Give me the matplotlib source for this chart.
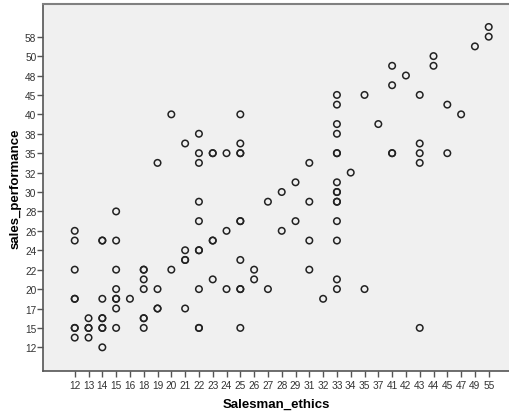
import matplotlib
matplotlib.use("Agg")
import matplotlib.pyplot as plt
import numpy as np

# category levels shown on each axis (ordinal, equally spaced)
x_levels = [12, 13, 14, 15, 16, 18, 19, 20, 21, 22, 23, 24, 25, 26, 27, 28,
            29, 31, 32, 33, 34, 35, 37, 41, 42, 43, 44, 45, 47, 49, 55]
y_levels = [12, 13, 15, 16, 17, 18, 20, 21, 22, 23, 24, 25, 26, 27, 28, 29,
            30, 31, 32, 33, 35, 37, 38, 39, 40, 43, 45, 47, 48, 49, 50, 55,
            58, 60]
# only every other y level gets a label
y_tick_labels = [12, 15, 17, 20, 22, 24, 26, 28, 30, 32, 35, 38, 40, 45, 48, 50, 58]

# observations: Salesman_ethics -> list of sales_performance
obs = {
    12: [26, 25, 22, 18, 18, 15, 15, 13],
    13: [16, 15, 15, 13],
    14: [25, 25, 18, 16, 16, 15, 15, 12],
    15: [28, 25, 22, 20, 18, 18, 17, 15],
    16: [18],
    18: [22, 22, 21, 20, 16, 16, 15],
    19: [33, 20, 17, 17],
    20: [40, 22],
    21: [37, 24, 23, 23, 17],
    22: [38, 35, 33, 29, 27, 24, 24, 20, 15, 15],
    23: [35, 35, 25, 25, 21],
    24: [35, 26, 20],
    25: [40, 37, 35, 35, 27, 27, 23, 20, 20, 15],
    26: [22, 21],
    27: [29, 20],
    28: [30, 26],
    29: [31, 27],
    31: [33, 29, 25, 22],
    32: [18],
    33: [45, 43, 39, 38, 35, 35, 31, 30, 30, 29, 29, 27, 25, 21, 20],
    34: [32],
    35: [45, 20],
    37: [39],
    41: [49, 47, 35, 35],
    42: [48],
    43: [45, 37, 35, 33, 15],
    44: [50, 49],
    45: [43, 35],
    47: [40],
    49: [55],
    55: [60, 58],
}

ethics = np.array([x for x, ys in obs.items() for _ in ys])
performance = np.array([y for ys in obs.values() for y in ys])
xi = np.searchsorted(x_levels, ethics)
yi = np.searchsorted(y_levels, performance)

plt.rcParams['font.family'] = ['Liberation Sans', 'DejaVu Sans']

fig = plt.figure(figsize=(5.09, 4.14), dpi=100)
ax = fig.add_axes([0.085, 0.1007, 0.915, 0.888])
ax.set_facecolor('#f0f0f0')

ax.scatter(xi, yi, s=22, facecolors='none', edgecolors='#222222',
           linewidths=1.1, zorder=3)

ax.set_xlim(-2.28, 31.47)
ax.set_ylim(-2.47, 35.4)

ax.set_xticks(range(len(x_levels)))
ax.set_xticklabels([str(v) for v in x_levels])
ytick_pos = [y_levels.index(v) for v in y_tick_labels]
ax.set_yticks(ytick_pos)
ax.set_yticklabels([str(v) for v in y_tick_labels])

ax.tick_params(axis='both', direction='out', length=4, width=1,
               color='#555555', labelsize=7.3, labelcolor='#333333', pad=2)
ax.tick_params(axis='y', pad=1)

for side in ['left', 'bottom']:
    ax.spines[side].set_color('#555555')
    ax.spines[side].set_linewidth(1.2)
ax.spines['top'].set_color('#808080')
ax.spines['top'].set_linewidth(1.5)
ax.spines['right'].set_visible(False)

ax.set_xlabel('Salesman_ethics', fontsize=9.5, fontweight='bold', labelpad=6)
ax.set_ylabel('sales_performance', fontsize=9.5, fontweight='bold')
ax.yaxis.set_label_coords(-0.046, 0.5)

fig.savefig('out.png', dpi=100)
